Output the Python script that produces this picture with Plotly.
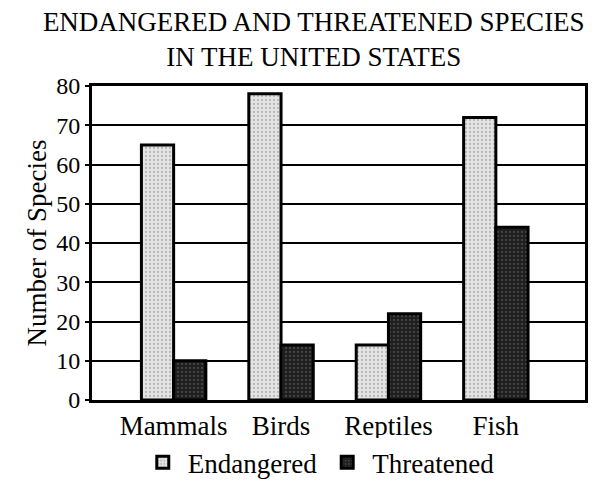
import plotly.graph_objects as go

categories = ["Mammals", "Birds", "Reptiles", "Fish"]
endangered = [65, 78, 14, 72]
threatened = [10, 14, 22, 44]
y_ticks = [0, 10, 20, 30, 40, 50, 60, 70, 80]

SERIF = "Liberation Serif, Times New Roman, serif"

fig = go.Figure()
fig.add_trace(go.Bar(
    name="Endangered", x=categories, y=endangered,
    marker=dict(
        color="#d4d4d4",
        line=dict(color="black", width=3),
        pattern=dict(shape=".", fgcolor="#8a8a8a", bgcolor="#e4e4e4",
                     size=4, solidity=0.25),
    ),
))
fig.add_trace(go.Bar(
    name="Threatened", x=categories, y=threatened,
    marker=dict(
        color="#2a2a2a",
        line=dict(color="black", width=3),
        pattern=dict(shape=".", fgcolor="#6a6a6a", bgcolor="#1e1e1e",
                     size=4, solidity=0.25),
    ),
))

fig.update_layout(
    width=592, height=491,
    margin=dict(l=92, r=4, t=86, b=88),
    paper_bgcolor="white", plot_bgcolor="white",
    font=dict(family=SERIF, color="black", size=22),
    title=dict(
        text="ENDANGERED AND THREATENED SPECIES<br>IN THE UNITED STATES",
        x=0.53, xanchor="center", yref="container", y=0.937, yanchor="middle",
        font=dict(family=SERIF, size=27, color="black"),
    ),
    barmode="group", bargap=0.4, bargroupgap=0,
    showlegend=True,
    legend=dict(
        orientation="h", x=0.46, xanchor="center", y=-0.2, yanchor="middle",
        font=dict(family=SERIF, size=27, color="black"),
        itemwidth=40, tracegroupgap=0,
    ),
)

fig.update_xaxes(
    range=[-0.76, 3.83],
    showline=True, linecolor="black", linewidth=3, mirror=True,
    ticks="", tickfont=dict(family=SERIF, size=27),
    showgrid=False,
)
fig.update_yaxes(
    range=[0, 80], tickvals=y_ticks,
    showline=True, linecolor="black", linewidth=3, mirror=True,
    ticks="outside", ticklen=4, tickwidth=2, tickcolor="black",
    tickfont=dict(family=SERIF, size=24),
    showgrid=True, gridcolor="black", gridwidth=2,
    zeroline=False,
    title=dict(text="Number of Species", standoff=2,
               font=dict(family=SERIF, size=27)),
)

fig.write_html("out.html")
